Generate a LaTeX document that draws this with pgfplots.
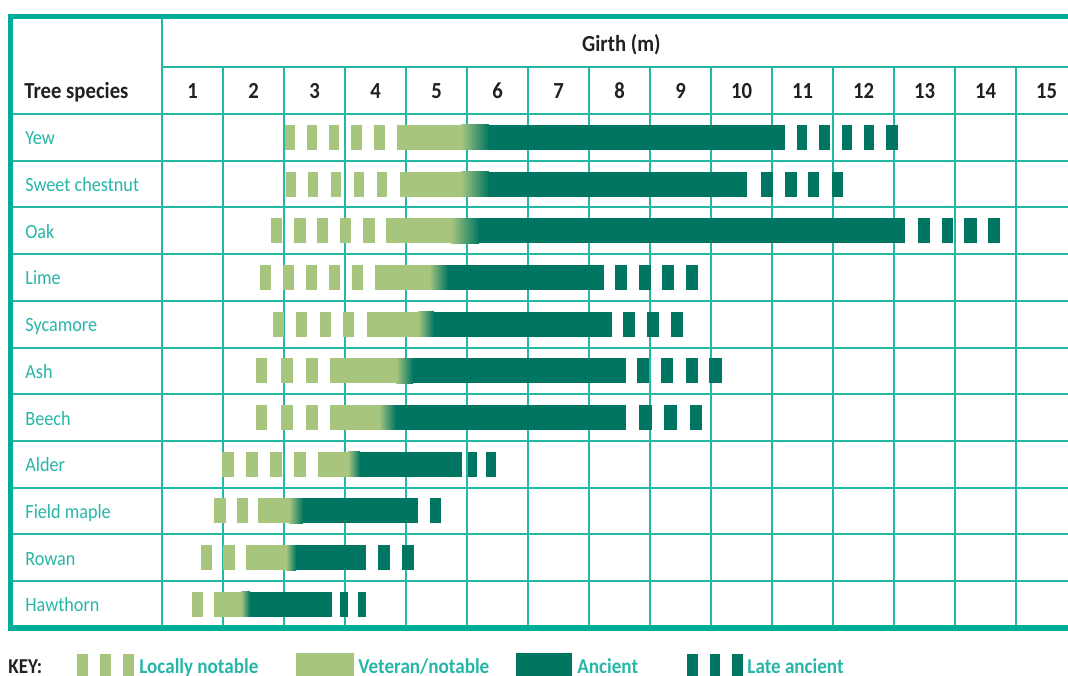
\documentclass[border=0pt]{standalone}
\usepackage{fontspec}
\setmainfont{Carlito}[FakeStretch=0.9]
\usepackage{pgfplots}
\pgfplotsset{compat=1.18}
\definecolor{frame}{RGB}{0,173,152}
\definecolor{gridc}{RGB}{34,184,164}
\definecolor{lbl}{RGB}{38,182,168}
\definecolor{dark}{RGB}{35,31,32}
\definecolor{vet}{RGB}{168,197,126}
\definecolor{anc}{RGB}{0,118,98}
\tikzset{
  seg/.style={line width=12.5pt, line cap=butt},
  sp/.style={anchor=base west, inner sep=0, text=lbl, font=\fontsize{10.1}{10}\selectfont},
  hd/.style={inner sep=0, text=dark, font=\fontsize{11.5}{12}\selectfont\bfseries},
  ky/.style={anchor=base west, inner sep=0, text=lbl, font=\fontsize{10.6}{11}\selectfont\bfseries},
  tr/.style={draw=none, mark=none, left color=vet, right color=anc},
}
\begin{document}
\begin{tikzpicture}
\begin{axis}[
  scale only axis, width=534pt, height=337.5pt,
  xmin=-2.156, xmax=15.352, ymin=-1.941, ymax=12.513,
  y dir=reverse, hide axis, clip=false,
  unbounded coords=jump,
]
% ---- grid ----
\draw[gridc, line width=1pt] (axis cs:0.5,-1.588) -- (axis cs:0.5,11.507);
\draw[gridc, line width=1pt] (axis cs:0.5,-0.5) -- (axis cs:15.4,-0.5);
\pgfplotsinvokeforeach{0.5,1.5,2.5,3.5,4.5,5.5,6.5,7.5,8.5,9.5,10.5}{\draw[gridc, line width=1pt] (axis cs:-1.984,#1) -- (axis cs:15.4,#1);}
\pgfplotsinvokeforeach{1.5,2.5,3.5,4.5,5.5,6.5,7.5,8.5,9.5,10.5,11.5,12.5,13.5,14.5}{\draw[gridc, line width=1pt] (axis cs:#1,-0.5) -- (axis cs:#1,11.507);}
\draw[frame, line width=2.6pt, line join=miter] (axis cs:15.4,-1.588) -- (axis cs:-1.984,-1.588) -- (axis cs:-1.984,11.507) -- (axis cs:15.4,11.507);
% ---- locally notable ----
\addplot[seg, draw=vet, mark=none] coordinates {
(2.516,1) (2.680,1) (nan,nan) (2.877,1) (3.041,1) (nan,nan) (3.238,1) (3.402,1) (nan,nan) (3.598,1) (3.779,1) (nan,nan) (3.975,1) (4.156,1) (nan,nan)
(2.533,2) (2.697,2) (nan,nan) (2.893,2) (3.057,2) (nan,nan) (3.270,2) (3.434,2) (nan,nan) (3.648,2) (3.811,2) (nan,nan) (4.025,2) (4.189,2) (nan,nan)
(2.287,3) (2.467,3) (nan,nan) (2.664,3) (2.861,3) (nan,nan) (3.041,3) (3.221,3) (nan,nan) (3.418,3) (3.598,3) (nan,nan) (3.795,3) (3.992,3) (nan,nan)
(2.107,4) (2.287,4) (nan,nan) (2.484,4) (2.664,4) (nan,nan) (2.861,4) (3.041,4) (nan,nan) (3.238,4) (3.418,4) (nan,nan) (3.615,4) (3.795,4) (nan,nan)
(2.320,5) (2.500,5) (nan,nan) (2.697,5) (2.877,5) (nan,nan) (3.090,5) (3.270,5) (nan,nan) (3.467,5) (3.648,5) (nan,nan)
(2.041,6) (2.221,6) (nan,nan) (2.451,6) (2.648,6) (nan,nan) (2.861,6) (3.057,6) (nan,nan)
(2.041,7) (2.221,7) (nan,nan) (2.451,7) (2.648,7) (nan,nan) (2.861,7) (3.057,7) (nan,nan)
(1.484,8) (1.680,8) (nan,nan) (1.877,8) (2.074,8) (nan,nan) (2.270,8) (2.467,8) (nan,nan) (2.664,8) (2.861,8) (nan,nan)
(1.352,9) (1.549,9) (nan,nan) (1.730,9) (1.910,9) (nan,nan)
(1.139,10) (1.320,10) (nan,nan) (1.500,10) (1.697,10) (nan,nan)
(0.992,11) (1.172,11)
};
% ---- veteran / notable ----
\addplot[seg, draw=vet, mark=none] coordinates {
(4.352,1) (5.412,1) (nan,nan)
(4.402,2) (5.412,2) (nan,nan)
(4.172,3) (5.248,3) (nan,nan)
(3.992,4) (4.887,4) (nan,nan)
(3.861,5) (4.707,5) (nan,nan)
(3.254,6) (4.346,6) (nan,nan)
(3.254,7) (4.067,7) (nan,nan)
(3.057,8) (3.559,8) (nan,nan)
(2.074,9) (2.592,9) (nan,nan)
(1.877,10) (2.543,10) (nan,nan)
(1.352,11) (1.805,11)
};
% ---- ancient ----
\addplot[seg, draw=anc, mark=none] coordinates {
(5.851,1) (10.713,1) (nan,nan)
(5.851,2) (10.090,2) (nan,nan)
(5.687,3) (12.680,3) (nan,nan)
(5.179,4) (7.746,4) (nan,nan)
(4.949,5) (7.877,5) (nan,nan)
(4.605,6) (8.107,6) (nan,nan)
(4.326,7) (8.107,7) (nan,nan)
(3.736,8) (5.418,8) (nan,nan)
(2.801,9) (4.697,9) (nan,nan)
(2.687,10) (3.844,10) (nan,nan)
(1.933,11) (3.287,11)
};
% ---- transition veteran -> ancient ----
\addplot[tr] coordinates {(5.402,0.735) (5.861,0.735) (5.861,1.265) (5.402,1.265)} -- cycle;
\addplot[tr] coordinates {(5.402,1.735) (5.861,1.735) (5.861,2.265) (5.402,2.265)} -- cycle;
\addplot[tr] coordinates {(5.238,2.735) (5.697,2.735) (5.697,3.265) (5.238,3.265)} -- cycle;
\addplot[tr] coordinates {(4.877,3.735) (5.189,3.735) (5.189,4.265) (4.877,4.265)} -- cycle;
\addplot[tr] coordinates {(4.697,4.735) (4.959,4.735) (4.959,5.265) (4.697,5.265)} -- cycle;
\addplot[tr] coordinates {(4.336,5.735) (4.615,5.735) (4.615,6.265) (4.336,6.265)} -- cycle;
\addplot[tr] coordinates {(4.057,6.735) (4.336,6.735) (4.336,7.265) (4.057,7.265)} -- cycle;
\addplot[tr] coordinates {(3.549,7.735) (3.746,7.735) (3.746,8.265) (3.549,8.265)} -- cycle;
\addplot[tr] coordinates {(2.582,8.735) (2.811,8.735) (2.811,9.265) (2.582,9.265)} -- cycle;
\addplot[tr] coordinates {(2.533,9.735) (2.697,9.735) (2.697,10.265) (2.533,10.265)} -- cycle;
\addplot[tr] coordinates {(1.795,10.735) (1.943,10.735) (1.943,11.265) (1.795,11.265)} -- cycle;
% ---- late ancient ----
\addplot[seg, draw=anc, mark=none] coordinates {
(10.910,1) (11.074,1) (nan,nan) (11.270,1) (11.451,1) (nan,nan) (11.648,1) (11.811,1) (nan,nan) (12.008,1) (12.172,1) (nan,nan) (12.369,1) (12.566,1) (nan,nan)
(10.320,2) (10.516,2) (nan,nan) (10.713,2) (10.910,2) (nan,nan) (11.090,2) (11.270,2) (nan,nan) (11.483,2) (11.664,2) (nan,nan)
(12.893,3) (13.090,3) (nan,nan) (13.287,3) (13.467,3) (nan,nan) (13.648,3) (13.861,3) (nan,nan) (14.041,3) (14.238,3) (nan,nan)
(7.926,4) (8.123,4) (nan,nan) (8.320,4) (8.516,4) (nan,nan) (8.697,4) (8.893,4) (nan,nan) (9.090,4) (9.287,4) (nan,nan)
(8.057,5) (8.254,5) (nan,nan) (8.451,5) (8.648,5) (nan,nan) (8.844,5) (9.041,5) (nan,nan)
(8.287,6) (8.484,6) (nan,nan) (8.680,6) (8.877,6) (nan,nan) (9.090,6) (9.287,6) (nan,nan) (9.467,6) (9.680,6) (nan,nan)
(8.320,7) (8.533,7) (nan,nan) (8.730,7) (8.943,7) (nan,nan) (9.156,7) (9.352,7) (nan,nan)
(5.516,8) (5.664,8) (nan,nan) (5.811,8) (5.975,8) (nan,nan)
(4.893,9) (5.074,9) (nan,nan)
(4.041,10) (4.238,10) (nan,nan) (4.434,10) (4.631,10) (nan,nan)
(3.418,11) (3.549,11) (nan,nan) (3.713,11) (3.844,11)
};
% ---- header ----
\node[hd, anchor=base] at (axis cs:8.03,-0.83) {Girth (m)};
\node[hd, anchor=base west] at (axis cs:-1.762,0.16) {Tree species};
\pgfplotsinvokeforeach{1,...,15}{\node[hd, anchor=base] at (axis cs:#1,0.16) {#1};}
% ---- species ----
\node[sp] at (axis cs:-1.746,1.16) {Yew};
\node[sp] at (axis cs:-1.746,2.16) {Sweet chestnut};
\node[sp] at (axis cs:-1.746,3.16) {Oak};
\node[sp] at (axis cs:-1.746,4.16) {Lime};
\node[sp] at (axis cs:-1.746,5.16) {Sycamore};
\node[sp] at (axis cs:-1.746,6.16) {Ash};
\node[sp] at (axis cs:-1.746,7.16) {Beech};
\node[sp] at (axis cs:-1.746,8.16) {Alder};
\node[sp] at (axis cs:-1.746,9.16) {Field maple};
\node[sp] at (axis cs:-1.746,10.16) {Rowan};
\node[sp] at (axis cs:-1.746,11.16) {Hawthorn};
% ---- key ----
\node[ky, text=dark] at (axis cs:-2.025,12.47) {KEY:};
\fill[vet] (axis cs:-0.893,12.063) rectangle (axis cs:-0.713,12.7);
\fill[vet] (axis cs:-0.516,12.063) rectangle (axis cs:-0.336,12.7);
\fill[vet] (axis cs:-0.139,12.063) rectangle (axis cs:0.041,12.7);
\node[ky] at (axis cs:0.123,12.47) {Locally notable};
\fill[vet] (axis cs:2.697,12.05) rectangle (axis cs:3.648,12.7);
\node[ky] at (axis cs:3.713,12.47) {Veteran/notable};
\fill[anc] (axis cs:6.303,12.05) rectangle (axis cs:7.221,12.7);
\node[ky] at (axis cs:7.303,12.47) {Ancient};
\fill[anc] (axis cs:9.107,12.063) rectangle (axis cs:9.287,12.7);
\fill[anc] (axis cs:9.484,12.063) rectangle (axis cs:9.648,12.7);
\fill[anc] (axis cs:9.844,12.063) rectangle (axis cs:10.025,12.7);
\node[ky] at (axis cs:10.090,12.47) {Late ancient};
\end{axis}
\pgfresetboundingbox
\useasboundingbox (current axis.south west) rectangle (current axis.north east);
\end{tikzpicture}
\end{document}
